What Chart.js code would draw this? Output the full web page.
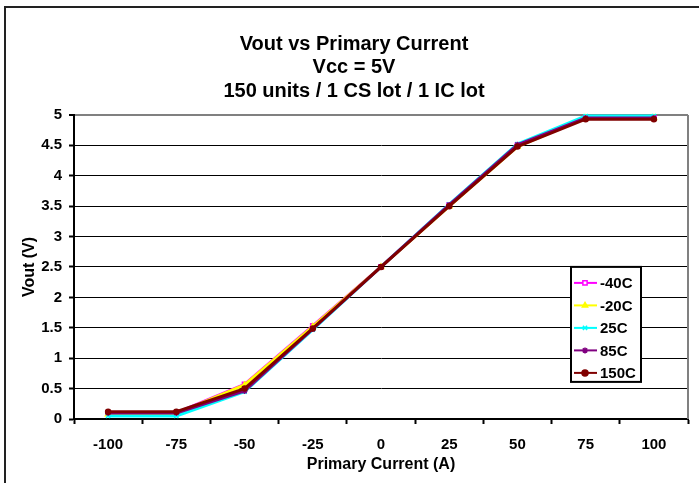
<!DOCTYPE html>
<html>
<head>
<meta charset="utf-8">
<script src="https://cdn.jsdelivr.net/npm/chart.js@4.4.1/dist/chart.umd.min.js"></script>
<style>
  html, body { margin: 0; padding: 0; background: #fff; }
  canvas { display: block; }
</style>
</head>
<body>
<canvas id="voutChart" width="699" height="483"></canvas>
<script>
// primary current, A
const currents = ["-100", "-75", "-50", "-25", "0", "25", "50", "75", "100"];
// Vout (V) per temperature
const vMinus40 = [0.10, 0.10, 0.57, 1.53, 2.50, 3.52, 4.50, 4.95, 4.95];
const vMinus20 = [0.08, 0.09, 0.56, 1.52, 2.50, 3.50, 4.48, 4.95, 4.95];
const v25 = [0.05, 0.05, 0.45, 1.47, 2.50, 3.53, 4.52, 4.98, 4.98];
const v85 = [0.10, 0.10, 0.46, 1.48, 2.50, 3.52, 4.51, 4.95, 4.95];
const v150 = [0.12, 0.12, 0.50, 1.49, 2.50, 3.50, 4.48, 4.93, 4.93];
const yTicks = [0, 0.5, 1, 1.5, 2, 2.5, 3, 3.5, 4, 4.5, 5];

const FONT = "'Liberation Sans', Arial, sans-serif";

function series(label, data, color, style, order, radius) {
  return {
    label,
    data,
    borderColor: color,
    backgroundColor: color,
    pointBackgroundColor: color,
    pointBorderColor: color,
    pointStyle: style,
    pointRadius: radius || 3,
    pointBorderWidth: 1.5,
    borderWidth: 3,
    tension: 0,
    order,
    clip: false,
  };
}

// frame, plot border and the legend box
const decor = {
  id: "decor",
  beforeDraw(chart) {
    const { ctx, width, height } = chart;
    ctx.save();
    ctx.fillStyle = "#fff";
    ctx.fillRect(0, 0, width, height);
    ctx.strokeStyle = "#222";
    ctx.lineWidth = 2;
    ctx.beginPath();
    ctx.moveTo(5, height + 2);
    ctx.lineTo(5, 7);
    ctx.lineTo(width + 2, 7);
    ctx.stroke();
    ctx.restore();
  },
  afterDatasetsDraw(chart) {
    const { ctx, chartArea: { top, bottom, right } } = chart;
    ctx.save();
    ctx.strokeStyle = "#808080";
    ctx.lineWidth = 2;
    ctx.beginPath();
    ctx.moveTo(right, top);
    ctx.lineTo(right, bottom);
    ctx.stroke();

    // legend
    const bx = right - 117, by = top + 152, bw = 70, bh = 115;
    ctx.fillStyle = "#fff";
    ctx.fillRect(bx, by, bw, bh);
    ctx.strokeStyle = "#000";
    ctx.lineWidth = 2;
    ctx.strokeRect(bx, by, bw, bh);
    ctx.font = "bold 15px " + FONT;
    ctx.textBaseline = "middle";
    ctx.textAlign = "left";
    chart.data.datasets.forEach((ds, i) => {
      const y = by + 16 + i * 22.5;
      ctx.strokeStyle = ds.borderColor;
      ctx.lineWidth = 2;
      ctx.beginPath();
      ctx.moveTo(bx + 3, y);
      ctx.lineTo(bx + 26, y);
      ctx.stroke();
      if (Chart.helpers && Chart.helpers.drawPoint) {
        ctx.fillStyle = ds.label === "-40C" ? "#fff" : ds.pointBackgroundColor;
        ctx.lineWidth = 1.5;
        Chart.helpers.drawPoint(ctx, { pointStyle: ds.pointStyle, radius: 3, rotation: 0, borderWidth: 1.5 }, bx + 14, y);
      }
      ctx.fillStyle = "#000";
      ctx.fillText(ds.label, bx + 29, y + 1);
    });
    ctx.restore();
  },
};

new Chart(document.getElementById("voutChart"), {
  type: "line",
  data: {
    labels: currents,
    datasets: [
      series("-40C", vMinus40, "#FF00FF", "rect", 4),
      series("-20C", vMinus20, "#FFFF00", "triangle", 3),
      series("25C", v25, "#00FFFF", "crossRot", 2),
      series("85C", v85, "#800080", "star", 1),
      series("150C", v150, "#800000", "circle", 0, 2.5),
    ],
  },
  options: {
    responsive: false,
    animation: false,
    events: [],
    layout: { padding: { left: 20, right: 11 } },
    plugins: {
      legend: { display: false },
      tooltip: { enabled: false },
      title: {
        display: true,
        text: ["Vout vs Primary Current", "Vcc = 5V", "150 units / 1 CS lot / 1 IC lot"],
        color: "#000",
        font: { family: FONT, size: 20, weight: "bold", lineHeight: 1.165 },
        padding: { top: 33, bottom: 12 },
      },
    },
    scales: {
      x: {
        type: "category",
        offset: true,
        grid: { offset: true, drawOnChartArea: false, color: "#000", tickLength: 5, tickWidth: 2 },
        border: { color: "#000", width: 2 },
        ticks: { color: "#000", padding: 12, font: { family: FONT, size: 15, weight: "bold" }, maxRotation: 0 },
        title: {
          display: true,
          text: "Primary Current (A)",
          color: "#000",
          font: { family: FONT, size: 16, weight: "bold" },
          padding: { top: 0, bottom: 9 },
        },
        afterFit(scale) { scale.height = 64; },
      },
      y: {
        min: 0,
        max: 5,
        afterBuildTicks(scale) { scale.ticks = yTicks.map(v => ({ value: v })); },
        grid: {
          color: ctx => (ctx.tick && ctx.tick.value === 5 ? "#808080" : "#000"),
          lineWidth: ctx => (ctx.tick && ctx.tick.value === 5 ? 2 : 1),
          tickColor: "#000",
          tickLength: 5,
          tickWidth: 2,
        },
        border: { color: "#000", width: 2 },
        ticks: {
          color: "#000",
          padding: 7,
          font: { family: FONT, size: 15, weight: "bold" },
          callback: v => String(v),
        },
        title: {
          display: true,
          text: "Vout (V)",
          color: "#000",
          font: { family: FONT, size: 16, weight: "bold" },
          padding: { top: 0, bottom: 0 },
        },
        afterFit(scale) { scale.width = 54; },
      },
    },
  },
  plugins: [decor],
});
</script>
</body>
</html>
